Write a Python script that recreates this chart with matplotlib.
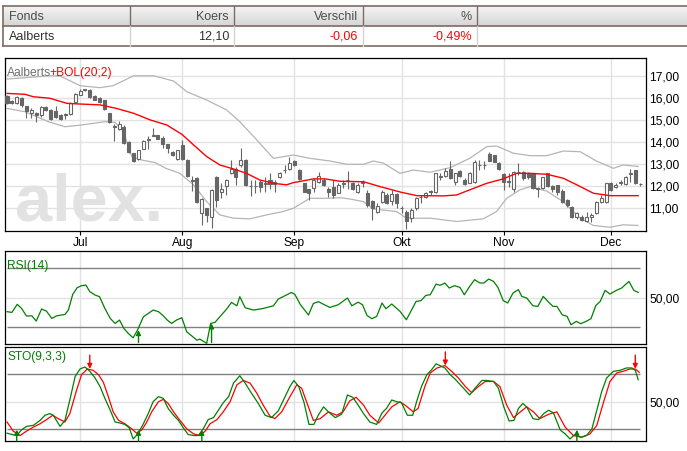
import matplotlib
matplotlib.use('Agg')
import matplotlib.pyplot as plt
from matplotlib import font_manager
from matplotlib.colors import LinearSegmentedColormap
import numpy as np

# koersdata Aalberts (dagkaarsen), index 0 = eerste handelsdag in beeld
opens = [16.10, 15.85, 15.75, 16.00, 15.63, 15.30, 15.30, 15.20, 15.60, 15.45,
         15.40, 15.20, 15.20, 15.25, 15.80, 16.15, 16.35, 16.35, 16.10, 16.00,
         15.90, 15.30, 14.72, 14.60, 14.70, 14.00, 13.50, 13.23, 13.70, 14.10,
         14.28, 14.30, 14.20, 13.90, 13.56, 13.22, 13.86, 13.20, 12.30, 12.35,
         10.77, 11.00, 10.62, 12.43, 11.72, 12.00, 12.58, 12.80, 12.96, 13.20,
         12.00, 12.01, 12.20, 12.12, 12.28, 12.08, 12.43, 12.72, 12.80, 13.14,
         12.73, 12.13, 11.86, 11.90, 12.20, 12.30, 11.86, 11.98, 11.70, 12.12,
         12.27, 12.13, 11.75, 12.15, 11.68, 11.35, 10.85, 11.30, 11.60, 11.35,
         11.65, 10.99, 10.83, 10.54, 11.00, 11.49, 11.52, 11.74, 11.75, 12.42,
         12.46, 12.80, 12.20, 12.69, 12.30, 12.16, 12.20, 12.95, 12.95, 13.46,
         13.40, 13.06, 12.55, 12.19, 11.86, 12.62, 12.65, 12.58, 12.58, 11.89,
         11.90, 12.58, 12.00, 12.05, 11.80, 11.38, 11.07, 10.59, 10.62, 10.44,
         10.59, 10.80, 11.30, 11.30, 12.13, 11.95, 12.15, 12.10, 12.55, 12.73,
         12.11]
highs = [16.15, 15.90, 16.10, 16.02, 15.65, 15.55, 15.35, 15.62, 15.65, 15.50,
         15.63, 15.25, 15.33, 15.80, 16.20, 16.40, 16.42, 16.40, 16.12, 16.05,
         15.92, 15.33, 14.80, 14.97, 14.75, 14.05, 13.52, 13.66, 14.10, 14.25,
         14.65, 14.33, 14.25, 13.92, 13.60, 13.66, 14.09, 13.22, 12.45, 12.40,
         11.45, 11.02, 11.85, 12.46, 12.13, 12.31, 13.18, 12.88, 13.71, 13.22,
         12.28, 12.28, 12.28, 12.43, 12.58, 12.28, 12.65, 12.96, 13.33, 13.20,
         12.76, 12.15, 11.88, 12.35, 12.66, 12.35, 11.98, 12.30, 12.13, 12.28,
         12.69, 12.20, 12.16, 12.28, 11.83, 11.37, 11.22, 11.83, 11.68, 11.83,
         11.68, 11.10, 10.90, 11.00, 11.50, 11.60, 11.75, 11.83, 12.61, 12.58,
         12.81, 13.15, 12.61, 12.75, 12.35, 12.65, 13.18, 13.18, 13.15, 13.55,
         13.42, 13.08, 12.58, 12.58, 12.69, 13.03, 12.70, 12.65, 12.60, 11.98,
         12.43, 12.60, 12.05, 12.07, 11.85, 11.40, 11.10, 10.85, 10.70, 10.85,
         10.80, 11.35, 11.60, 12.16, 12.20, 12.13, 12.30, 12.46, 12.76, 12.75,
         12.13]
lows = [15.70, 15.70, 15.72, 15.60, 15.07, 15.07, 14.90, 15.15, 15.40, 15.00,
        15.10, 15.00, 15.05, 15.22, 15.78, 16.12, 16.33, 16.00, 15.88, 15.77,
        15.45, 14.87, 14.06, 14.55, 13.90, 13.48, 13.10, 13.20, 13.68, 13.70,
        14.25, 14.12, 13.75, 13.52, 13.38, 13.20, 13.20, 12.40, 11.80, 11.25,
        10.25, 10.40, 10.10, 11.07, 11.45, 11.60, 12.55, 12.05, 12.88, 12.00,
        11.55, 11.67, 11.75, 11.75, 11.85, 11.75, 12.35, 12.58, 12.73, 12.90,
        12.28, 11.73, 11.38, 11.75, 12.13, 12.00, 11.53, 11.45, 11.68, 11.90,
        11.86, 11.83, 11.71, 11.98, 11.07, 10.47, 10.77, 11.22, 11.19, 11.15,
        11.00, 10.80, 10.05, 10.40, 10.92, 11.22, 11.45, 11.60, 11.68, 12.28,
        12.43, 12.31, 12.05, 12.43, 12.05, 12.13, 12.16, 12.73, 12.76, 13.12,
        13.08, 12.72, 11.83, 11.98, 11.75, 12.50, 12.30, 12.31, 11.86, 11.50,
        11.86, 11.98, 11.75, 11.60, 11.25, 11.07, 10.55, 10.50, 10.42, 10.40,
        10.40, 10.75, 11.25, 11.25, 11.80, 11.90, 12.05, 12.05, 12.20, 12.10,
        12.00]
closes = [15.75, 15.77, 16.05, 15.67, 15.40, 15.45, 15.20, 15.60, 15.45, 15.03,
          15.15, 15.05, 15.25, 15.77, 16.16, 16.30, 16.38, 16.05, 15.90, 15.80,
          15.50, 14.90, 14.70, 14.80, 13.94, 13.53, 13.13, 13.63, 14.05, 14.14,
          14.30, 14.15, 13.93, 13.75, 13.41, 13.64, 13.22, 12.45, 12.25, 11.30,
          11.40, 10.70, 11.83, 11.38, 11.86, 12.28, 12.80, 12.43, 13.20, 12.05,
          12.03, 12.03, 11.95, 12.14, 12.10, 12.20, 12.60, 12.74, 13.03, 12.96,
          12.31, 11.75, 11.68, 12.28, 12.46, 12.05, 11.75, 11.60, 12.05, 12.14,
          12.29, 11.86, 12.05, 12.17, 11.15, 11.00, 11.10, 11.75, 11.22, 11.65,
          11.22, 11.01, 10.44, 10.92, 11.45, 11.51, 11.70, 11.76, 12.58, 12.44,
          12.69, 12.35, 12.58, 12.46, 12.10, 12.58, 13.10, 12.97, 12.97, 13.16,
          13.10, 12.76, 12.20, 12.22, 12.65, 12.65, 12.36, 12.43, 11.90, 11.91,
          12.40, 12.03, 11.86, 11.75, 11.30, 11.15, 10.59, 10.80, 10.47, 10.62,
          10.70, 11.30, 11.45, 12.13, 11.83, 12.05, 12.17, 12.40, 12.60, 12.13,
          12.10]

months = ['Jul', 'Aug', 'Sep', 'Okt', 'Nov', 'Dec']
month_idx = [15, 36, 59, 81, 102, 124]

mid_x = [0, 3.7, 5.4, 8.8, 12.3, 15, 19.1, 22.5, 26, 29.4, 32.8, 35.9, 38.3, 41,
         43.7, 46.5, 49.2, 51.9, 54.7, 57.4, 58.8, 60.8, 62.9, 65.3, 68.4, 73.2,
         76.6, 81, 84.2, 89.6, 92.3, 95.8, 98.5, 101.9, 104.6, 107.4, 110.8,
         114.2, 117, 120.4, 123.8, 125.9, 129.6]
mid_y = [16.20, 16.16, 16.05, 15.98, 15.75, 15.72, 15.68, 15.52, 15.30, 15.00,
         14.77, 14.35, 13.87, 13.34, 12.96, 12.78, 12.58, 12.28, 12.13, 12.06,
         12.16, 12.24, 12.33, 12.33, 12.22, 12.20, 11.98, 11.72, 11.57, 11.56,
         11.60, 11.90, 12.13, 12.33, 12.58, 12.58, 12.54, 12.36, 12.06, 11.68,
         11.57, 11.57, 11.57]
up_x = [0, 3.7, 8.8, 10.9, 15, 19.1, 21.8, 26, 30.1, 34.2, 36.9, 41, 45.1, 47.8,
        51.3, 54.7, 58.8, 62.2, 66.3, 69.8, 73.2, 75.2, 77.3, 80.7, 83.4, 86.9,
        91, 95, 98.5, 100.5, 104, 107.4, 110.8, 114.2, 117.7, 121, 124.5, 126.5,
        129.6]
up_y = [16.85, 16.91, 17.00, 16.99, 16.55, 16.46, 16.55, 17.00, 17.00, 16.76,
        16.28, 15.90, 15.45, 14.92, 14.09, 13.26, 13.41, 13.26, 13.14, 12.99,
        12.99, 13.14, 13.04, 12.58, 12.73, 12.63, 12.84, 13.26, 13.79, 13.82,
        13.49, 13.38, 13.38, 13.59, 13.56, 13.14, 12.81, 12.96, 12.89]
low_x = [0, 3.7, 8.5, 11.9, 15.3, 20.1, 22.2, 23.9, 25.6, 27.7, 30.4, 32.6,
         35.5, 38.3, 41, 43.7, 46.5, 49.9, 53.3, 56.7, 58.8, 62.2, 65.6, 68.4,
         70.4, 73.2, 75.2, 80, 82, 86.9, 92.3, 97.8, 100.5, 102.6, 105.3, 107.4,
         110.8, 114.2, 117.7, 120.4, 123.8, 126.5, 129.6]
low_y = [15.52, 15.37, 14.92, 14.69, 14.77, 14.92, 14.89, 14.47, 13.34, 13.18,
         13.07, 12.81, 12.58, 12.06, 11.30, 10.70, 10.55, 10.52, 10.70, 10.85,
         11.00, 11.45, 11.45, 11.48, 11.42, 11.30, 10.97, 10.85, 10.55, 10.55,
         10.40, 10.52, 10.85, 11.45, 11.83, 11.98, 11.78, 11.30, 10.55, 10.22,
         10.14, 10.25, 10.22]

# RSI(14)
rsi_x = [0, 1, 2.1, 3, 4, 5.1, 6, 7.1, 8.1, 9.2, 10.2, 11.9, 12.6, 13.5, 14.4,
         15.3, 16.2, 17, 18.1, 19, 20.1, 21.2, 22.2, 23.1, 24, 24.9, 25.9, 26.8,
         28, 29, 30, 31.1, 32.1, 32.9, 33.8, 34.8, 35.9, 36.9, 37.9, 39, 39.6,
         40.5, 41, 41.8, 42.7, 43.7, 45.1, 46.1, 47.2, 47.8, 48.9, 50.6, 52.6,
         54.7, 55.7, 57.1, 58.4, 59.1, 60.2, 61.9, 62.9, 64, 65, 66.3, 68, 69.9,
         70.8, 72.1, 73, 73.9, 74.9, 75.9, 77, 77.8, 79, 80.7, 82, 84, 85, 86,
         86.9, 88.1, 88.9, 89.9, 90.8, 91.9, 93, 93.9, 95, 96, 97.1, 97.9, 98.9,
         99.9, 100.8, 101.9, 102.8, 103.9, 105, 105.7, 106.7, 108, 109, 110.1,
         111.2, 112.1, 112.9, 114, 115, 115.8, 116.9, 117.8, 118.9, 119.9, 120.9,
         121.8, 122.8, 123.8, 125, 126.2, 127.7, 128.7, 129.6]
rsi_y = [40.5, 40.0, 45.5, 42.7, 37.5, 37.7, 34.1, 42.3, 40.9, 35.9, 37.7, 38.6,
         41.6, 52.3, 56.8, 58.2, 58.6, 54.1, 51.8, 50.7, 42.7, 35.9, 32.5, 34.8,
         29.1, 25.7, 22.7, 28.0, 37.0, 39.3, 41.6, 40.5, 37.7, 34.8, 32.5, 34.8,
         36.4, 26.8, 24.1, 21.1, 21.8, 20.0, 18.9, 32.5, 33.2, 37.0, 42.3, 46.8,
         44.5, 50.7, 43.2, 41.6, 42.7, 44.5, 49.1, 51.4, 53.6, 52.3, 45.5, 38.2,
         46.1, 47.3, 45.5, 43.4, 45.2, 49.8, 44.5, 47.0, 45.2, 38.0, 35.7, 37.3,
         46.4, 42.5, 45.7, 40.7, 35.0, 47.5, 48.0, 51.6, 52.0, 59.3, 58.4, 60.0,
         56.6, 58.2, 57.0, 52.0, 57.7, 62.3, 60.0, 60.0, 62.7, 61.1, 57.0, 48.0,
         46.4, 53.2, 55.5, 50.9, 49.8, 44.5, 44.1, 50.9, 47.0, 44.1, 44.1, 38.4,
         37.3, 31.6, 33.9, 32.3, 33.9, 35.7, 44.7, 47.5, 55.0, 52.5, 54.8, 56.6,
         61.1, 55.0, 53.6]
rsi_buy_x = [27, 42]
rsi_buy_y = [28.0, 32.5]

# STO(9,3,3): %K (groen) en %D (rood)
k_x = [0, 1, 2, 3, 4, 5.4, 6.8, 7.8, 8.8, 9.5, 10.9, 11.9, 12.9, 14, 15, 16,
       17, 18.1, 19.1, 20.1, 21.2, 22.2, 23.2, 24.2, 25.1, 25.9, 26.9, 28, 29,
       30, 31.1, 32.1, 33.1, 34.2, 35.2, 36.2, 37.2, 38.3, 39.3, 40.3, 41.3,
       42.4, 43.4, 44.4, 45.5, 46.5, 47.8, 48.9, 50.2, 51.6, 53, 54.3, 55.7,
       57.1, 58.1, 58.9, 59.9, 61, 62, 63, 63.9, 65, 66, 67.4, 68.7, 69.9, 71,
       72.1, 73.2, 74.5, 75.9, 77, 77.9, 79, 80, 81, 82.2, 83.3, 84.2, 85.1,
       86.2, 87.2, 88.1, 88.9, 89.9, 91, 92, 93.4, 95, 96.1, 97.5, 98.5, 99.9,
       100.9, 102, 103.1, 104.1, 105, 105.9, 106.7, 108, 109.1, 110.2, 111.2,
       112.2, 113.6, 114.6, 115.6, 116.6, 117.8, 119, 120.1, 121.1, 122.1,
       123.1, 124.5, 125.9, 127.2, 128.3, 129, 129.6]
k_y = [15.6, 14.1, 13.0, 19.3, 23.0, 24.1, 29.6, 35.2, 37.0, 35.2, 23.0, 29.6,
       51.9, 77.8, 85.9, 88.1, 83.3, 75.9, 66.7, 53.7, 40.7, 27.8, 26.7, 25.2,
       21.5, 9.3, 14.8, 25.9, 37.0, 50.0, 55.6, 53.7, 42.6, 35.2, 29.6, 21.5,
       14.1, 13.0, 13.0, 20.4, 30.4, 32.6, 40.7, 48.9, 55.6, 70.4, 78.5, 70.4,
       59.3, 48.1, 35.2, 32.6, 40.0, 55.6, 66.7, 73.3, 66.7, 48.9, 25.2, 25.2,
       35.2, 44.4, 38.9, 32.6, 36.3, 57.4, 54.8, 46.3, 37.0, 27.8, 25.2, 37.8,
       42.6, 51.9, 50.0, 48.9, 35.2, 35.2, 51.9, 66.7, 79.6, 85.2, 91.5, 89.6,
       87.0, 79.6, 74.8, 66.7, 57.4, 64.8, 73.3, 73.3, 72.2, 64.8, 44.4, 28.9,
       29.6, 42.6, 48.1, 44.4, 31.5, 30.4, 37.0, 40.7, 37.8, 18.9, 14.8, 9.3,
       14.1, 11.1, 13.0, 20.4, 40.7, 61.1, 75.9, 83.3, 84.4, 87.0, 87.0, 84.4,
       74.1]
d_x = [0, 1.3, 2.7, 4, 5.4, 6.8, 8.1, 9.4, 10.5, 11.9, 12.9, 14.2, 15.3, 16.5,
       17.7, 18.8, 19.8, 20.8, 21.8, 22.9, 24.2, 25.6, 26.6, 27.7, 28.7, 29.7,
       31.1, 32.1, 33.1, 34.2, 35.5, 36.9, 38.3, 39.6, 40.7, 41.7, 43.1, 44.4,
       45.8, 47.2, 48.5, 49.9, 51.3, 52.6, 54, 55, 56.4, 58.1, 59.5, 60.5, 61.5,
       62.9, 64.3, 66, 67.7, 69, 70.4, 71.7, 73.2, 74.5, 76.3, 77.6, 79, 80.7,
       82, 83.4, 84.4, 85.8, 86.9, 88.3, 89.9, 91.3, 92.7, 94.1, 95.4, 96.8,
       98.2, 99.9, 101.2, 102.6, 104, 105.4, 106.7, 108.1, 109.4, 111.2, 112.9,
       114.6, 116.3, 118, 119.7, 121.1, 122.4, 123.8, 125.2, 126.5, 127.9, 129,
       129.8]
d_y = [27.8, 17.8, 13.0, 17.8, 22.2, 25.9, 30.4, 35.2, 31.5, 27.8, 37.0, 61.1,
       79.6, 85.9, 84.4, 79.6, 71.1, 55.6, 38.9, 29.6, 25.9, 20.4, 15.6, 19.3,
       27.8, 38.9, 50.0, 52.6, 48.1, 38.9, 29.6, 20.4, 14.8, 13.0, 17.8, 25.9,
       30.4, 38.9, 50.0, 68.5, 73.3, 70.4, 59.3, 46.3, 34.1, 31.5, 38.9, 55.6,
       68.5, 64.8, 50.0, 29.6, 31.5, 38.9, 35.2, 38.9, 51.1, 54.8, 46.3, 35.2,
       26.7, 35.2, 44.4, 50.0, 45.2, 38.9, 42.6, 66.7, 81.5, 87.0, 89.6, 83.3,
       75.9, 66.7, 60.0, 66.7, 72.2, 72.2, 66.7, 46.3, 32.6, 38.9, 44.4, 38.9,
       31.5, 36.3, 38.9, 22.2, 13.0, 11.1, 14.8, 24.1, 48.1, 72.2, 81.5, 83.3,
       85.9, 85.9, 82.2]
sto_buy_x = [2, 27, 40, 117]
sto_buy_y = [19.3, 19.3, 19.3, 19.3]
sto_sell_x = [17, 90, 129]
sto_sell_y = [86.0, 89.6, 86.0]

names = {f.name for f in font_manager.fontManager.ttflist}
NARROW = 'Liberation Sans Narrow' if 'Liberation Sans Narrow' in names else 'Liberation Sans'
plt.rcParams['font.family'] = ['Liberation Sans', 'DejaVu Sans']

W, H = 687, 451
FS = 8.64          # 12 px
GREEN = '#008000'
CANDLE = '#666666'
GRID = '#e2e2e2'
fig = plt.figure(figsize=(W / 100, H / 100), dpi=100)


def px_axes(x0, y0, x1, y1):
    return fig.add_axes([x0 / W, 1 - y1 / H, (x1 - x0) / W, (y1 - y0) / H])


# ---- tabel bovenaan ----
tab = px_axes(0, 0, W, 50)
hdr = LinearSegmentedColormap.from_list('hdr', ['#f4f4f4', '#d6d6d6'])
tab.imshow(np.linspace(0, 1, 30).reshape(-1, 1), cmap=hdr, aspect='auto',
           extent=(3, W, 26, 6))
tab.set_xlim(0, W)
tab.set_ylim(50, 0)
tab.axis('off')
BROWN = '#7d6c63'
for yy in (6, 26, 46):
    tab.plot([3, W], [yy, yy], color=BROWN, lw=1.2)
tab.plot([3, 3], [6, 46], color=BROWN, lw=1.2)
for xx in (130, 234, 363, 477):
    tab.plot([xx, xx], [6, 26], color=BROWN, lw=1)
    tab.plot([xx, xx], [26, 46], color='#d2d2d2', lw=1)
headers = ['Fonds', 'Koers', 'Verschil', '%']
row = ['Aalberts', '12,10', '-0,06', '-0,49%']
row_col = ['#333333', '#333333', '#ff0000', '#ff0000']
text_x = [8.5, 229, 358, 472]
aligns = ['left', 'right', 'right', 'right']
for h, r, rc, tx, al in zip(headers, row, row_col, text_x, aligns):
    tab.text(tx, 16.5, h, ha=al, va='center', fontsize=FS + 0.4, color='#4d4d4d',
             family=NARROW)
    tab.text(tx, 36.5, r, ha=al, va='center', fontsize=FS + 0.4, color=rc,
             family=NARROW)

# ---- koerspaneel ----
ax = px_axes(5, 58.3, 646, 231)
idx = np.arange(len(closes))
o = np.array(opens)
c = np.array(closes)
rising = c >= o
body_lo = np.minimum(o, c)
body_h = np.maximum(np.abs(c - o), 0.015)
ax.vlines(idx, lows, highs, color=CANDLE, lw=0.8, zorder=3)
ax.bar(idx[rising], body_h[rising], 0.62, bottom=body_lo[rising], facecolor='white',
       edgecolor=CANDLE, lw=0.8, zorder=4)
ax.bar(idx[~rising], body_h[~rising], 0.62, bottom=body_lo[~rising], facecolor=CANDLE,
       edgecolor=CANDLE, lw=0.8, zorder=4)
ax.plot(up_x, up_y, color='#b5b5b5', lw=0.9, zorder=2)
ax.plot(low_x, low_y, color='#b5b5b5', lw=0.9, zorder=2)
ax.plot(mid_x, mid_y, color='#ff0000', lw=1.0, zorder=5)
ax.text(0.016, 0.06, 'alex.', transform=ax.transAxes, fontsize=48, fontweight='bold',
        color='#e2e2e2', va='baseline', ha='left', zorder=1)
t1 = ax.annotate('Aalberts', xy=(0, 1), xycoords='axes fraction', xytext=(1.7, -12.5),
                 textcoords='offset points', fontsize=FS, color='#707070', va='baseline')
ax.annotate('+BOL(20;2)', xy=(1, 0), xycoords=t1, xytext=(-1.4, 0),
            textcoords='offset points', fontsize=FS, color='#ff0000', va='bottom')
ax.set_xlim(-0.41, 131.2)
ax.set_ylim(9.97, 17.79)
ax.set_yticks(range(11, 18))
ax.set_yticklabels([f'{v},00' for v in range(11, 18)])
ax.set_xticks(month_idx)
ax.set_xticklabels(months)

# ---- RSI ----
ax2 = px_axes(5, 251, 646, 344)
ax2.hlines([70, 30], 0, len(closes) - 1, color='#808080', lw=1, zorder=2)
ax2.plot(rsi_x, rsi_y, color=GREEN, lw=0.9, zorder=3)
for bx, by in zip(rsi_buy_x, rsi_buy_y):
    ax2.annotate('', xy=(bx, by), xytext=(bx, 19.5),
                 arrowprops=dict(arrowstyle='-|>', color=GREEN, lw=1, mutation_scale=7,
                                 shrinkA=0, shrinkB=0), zorder=4)
ax2.annotate('RSI(14)', xy=(0, 1), xycoords='axes fraction', xytext=(1.7, -12.8),
             textcoords='offset points', fontsize=FS, color=GREEN, va='baseline')
ax2.set_xlim(-0.41, 131.2)
ax2.set_ylim(18.5, 81.8)
ax2.set_yticks([50])
ax2.set_yticklabels(['50,00'])
ax2.set_xticks(month_idx)
ax2.set_xticklabels([])

# ---- STO ----
ax3 = px_axes(5, 346.5, 646, 441)
ax3.hlines([80, 20], 0, len(closes) - 1, color='#808080', lw=1, zorder=2)
ax3.plot(d_x, d_y, color='#ff0000', lw=0.9, zorder=3)
ax3.plot(k_x, k_y, color=GREEN, lw=0.9, zorder=3)
for bx, by in zip(sto_buy_x, sto_buy_y):
    ax3.annotate('', xy=(bx, by), xytext=(bx, 7.0),
                 arrowprops=dict(arrowstyle='-|>', color=GREEN, lw=1, mutation_scale=7,
                                 shrinkA=0, shrinkB=0), zorder=4)
for sx, sy in zip(sto_sell_x, sto_sell_y):
    ax3.annotate('', xy=(sx, sy), xytext=(sx, sy + 15),
                 arrowprops=dict(arrowstyle='-|>', color='#ff0000', lw=1, mutation_scale=7,
                                 shrinkA=0, shrinkB=0), zorder=4)
ax3.annotate('STO(9,3,3)', xy=(0, 1), xycoords='axes fraction', xytext=(1.7, -9.8),
             textcoords='offset points', fontsize=FS, color=GREEN, va='baseline')
ax3.set_xlim(-0.41, 131.2)
ax3.set_ylim(7, 110.5)
ax3.set_yticks([50])
ax3.set_yticklabels(['50,00'])
ax3.set_xticks(month_idx)
ax3.set_xticklabels([])

for a in (ax, ax2, ax3):
    a.grid(True, color=GRID, lw=1, zorder=0)
    a.set_axisbelow(True)
    a.yaxis.tick_right()
    a.tick_params(length=0, labelsize=FS, colors='black')
    a.tick_params(axis='y', pad=2.2)
    for sp in a.spines.values():
        sp.set_color('black')
        sp.set_linewidth(0.9)
# korte maandstreepjes onder het koerspaneel
ax.tick_params(axis='x', length=3, width=0.8, direction='out', pad=1.5)

fig.savefig('out.png', dpi=100)
